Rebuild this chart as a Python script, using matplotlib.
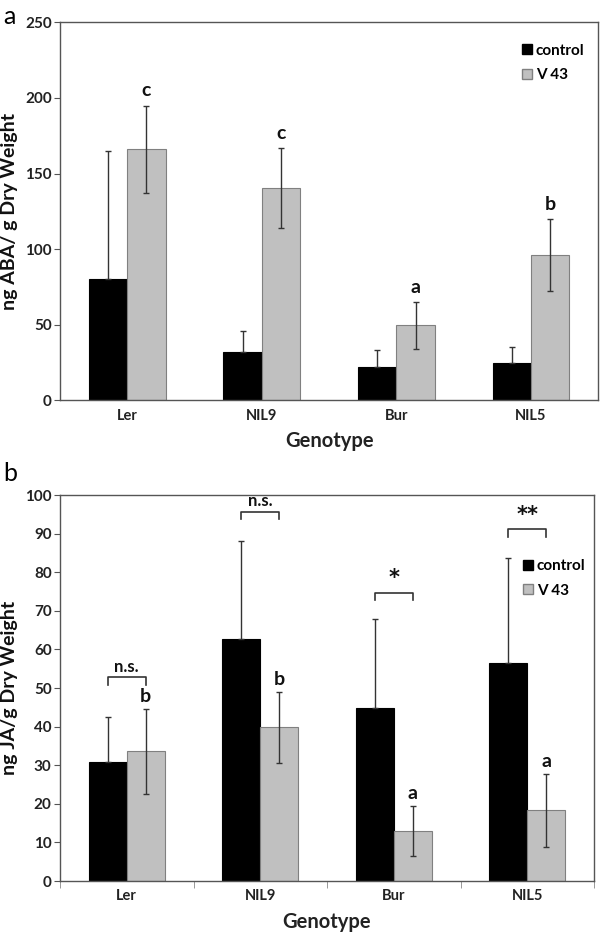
import matplotlib
matplotlib.use("Agg")
import matplotlib.pyplot as plt
import numpy as np
from matplotlib.lines import Line2D

plt.rcParams['font.family'] = ['Lato', 'DejaVu Sans']

genotypes = ["Ler", "NIL9", "Bur", "NIL5"]
series = ["control", "V 43"]

# Panel a: ABA
aba_control = [80, 32, 22, 24.5]
aba_control_err = [85, 13.5, 11, 10.5]
aba_v43 = [166, 140.5, 49.5, 96]
aba_v43_err = [29, 26.5, 15.5, 24]
aba_letters = ["c", "c", "a", "b"]

# Panel b: JA
ja_control = [30.9, 62.7, 44.9, 56.4]
ja_control_err = [11.6, 25.5, 23.1, 27.4]
ja_v43 = [33.6, 39.8, 13.0, 18.3]
ja_v43_err = [11.0, 9.2, 6.5, 9.5]
ja_letters = ["b", "b", "a", "a"]
ja_sig = ["n.s.", "n.s.", "*", "**"]
ja_bracket_y = [52.9, 95.7, 74.7, 91.1]

BLACK = "#000000"
GREY = "#c0c0c0"
EDGE = "#808080"
ERR = "#333333"

fig = plt.figure(figsize=(6, 9.33), dpi=100)
axa = fig.add_axes([0.1, 0.571, 0.897, 0.405])
axb = fig.add_axes([0.1, 0.0557, 0.89, 0.4137])

w = 0.285
x = np.arange(len(genotypes))

def draw(ax, ctrl, cerr, v43, verr, ymax, ystep):
    ax.bar(x - w/2, ctrl, w, color=BLACK, edgecolor=BLACK, linewidth=0.8, zorder=2)
    ax.bar(x + w/2, v43, w, color=GREY, edgecolor=EDGE, linewidth=0.8, zorder=2)
    ax.errorbar(x - w/2, ctrl, yerr=[np.zeros(len(ctrl)), cerr], fmt='none',
                ecolor=ERR, elinewidth=1, capsize=2.5, capthick=1, zorder=3)
    ax.errorbar(x + w/2, v43, yerr=verr, fmt='none',
                ecolor=ERR, elinewidth=1, capsize=2.5, capthick=1, zorder=3)
    ax.set_xlim(-0.5, 3.5)
    ax.set_ylim(0, ymax)
    ax.set_yticks(np.arange(0, ymax + 1, ystep))
    ax.set_xticks(x)
    ax.set_xticklabels(genotypes, fontsize=10.5, fontweight='bold', color="#222222")
    for lab in ax.get_yticklabels():
        lab.set_fontsize(11)
        lab.set_fontweight('bold')
        lab.set_color("#222222")
    for s in ax.spines.values():
        s.set_color("#555555")
        s.set_linewidth(1)
    ax.tick_params(axis='y', direction='out', length=4, color="#555555", pad=2)
    ax.tick_params(axis='x', length=0, pad=6)
    ax.set_xlabel("Genotype", fontsize=14.5, fontweight='bold', labelpad=6, color="#222222")

draw(axa, aba_control, aba_control_err, aba_v43, aba_v43_err, 250, 50)
axa.set_ylabel("ng ABA/ g Dry Weight", fontsize=14, fontweight='bold', color="#111111")
axa.yaxis.set_label_coords(-0.078, 0.5)
for i, t in enumerate(aba_letters):
    axa.text(x[i] + w/2, aba_v43[i] + aba_v43_err[i] + 4, t, ha='center', va='bottom',
             fontsize=14, fontweight='bold', color="#111111")

draw(axb, ja_control, ja_control_err, ja_v43, ja_v43_err, 100, 10)
axb.set_ylabel("ng JA/g Dry Weight", fontsize=14, fontweight='bold', color="#111111")
axb.yaxis.set_label_coords(-0.078, 0.5)
# minor ticks at category boundaries
axb.set_xticks(np.arange(-0.5, 4.0, 1.0), minor=True)
axb.tick_params(axis='x', which='minor', length=5, direction='out', color="#888888")
for i, t in enumerate(ja_letters):
    axb.text(x[i] + w/2, ja_v43[i] + ja_v43_err[i] + 1.0, t, ha='center', va='bottom',
             fontsize=14, fontweight='bold', color="#111111")
for i, s in enumerate(ja_sig):
    y = ja_bracket_y[i]
    axb.plot([x[i] - w/2, x[i] - w/2, x[i] + w/2, x[i] + w/2], [y - 2, y, y, y - 2],
             color="#333333", lw=1.2, zorder=3)
    if s.startswith("*"):
        axb.text(x[i], y + 1.2, s, ha='center', va='bottom', fontsize=15, fontweight='bold',
                 color="#111111", family=['DejaVu Sans'])
    else:
        axb.text(x[i], y + 0.6, s, ha='center', va='bottom', fontsize=12, fontweight='bold', color="#111111")

def legend(ax, loc, anchor):
    handles = [Line2D([], [], marker='s', linestyle='none', markerfacecolor=BLACK, markeredgecolor=BLACK, markersize=7),
               Line2D([], [], marker='s', linestyle='none', markerfacecolor=GREY, markeredgecolor=EDGE, markersize=7)]
    leg = ax.legend(handles, series, loc=loc, bbox_to_anchor=anchor, frameon=False,
                    handletextpad=0.1, handlelength=1.0, labelspacing=0.7,
                    prop={'weight': 'bold', 'size': 11})
    return leg

legend(axa, 'upper right', (1.0, 0.98))
legend(axb, 'upper right', (1.01, 0.87))

fig.text(0.005, 0.995, "a", fontsize=18, va='top', ha='left')
fig.text(0.005, 0.505, "b", fontsize=18, va='top', ha='left')

fig.savefig("out.png", dpi=100)
